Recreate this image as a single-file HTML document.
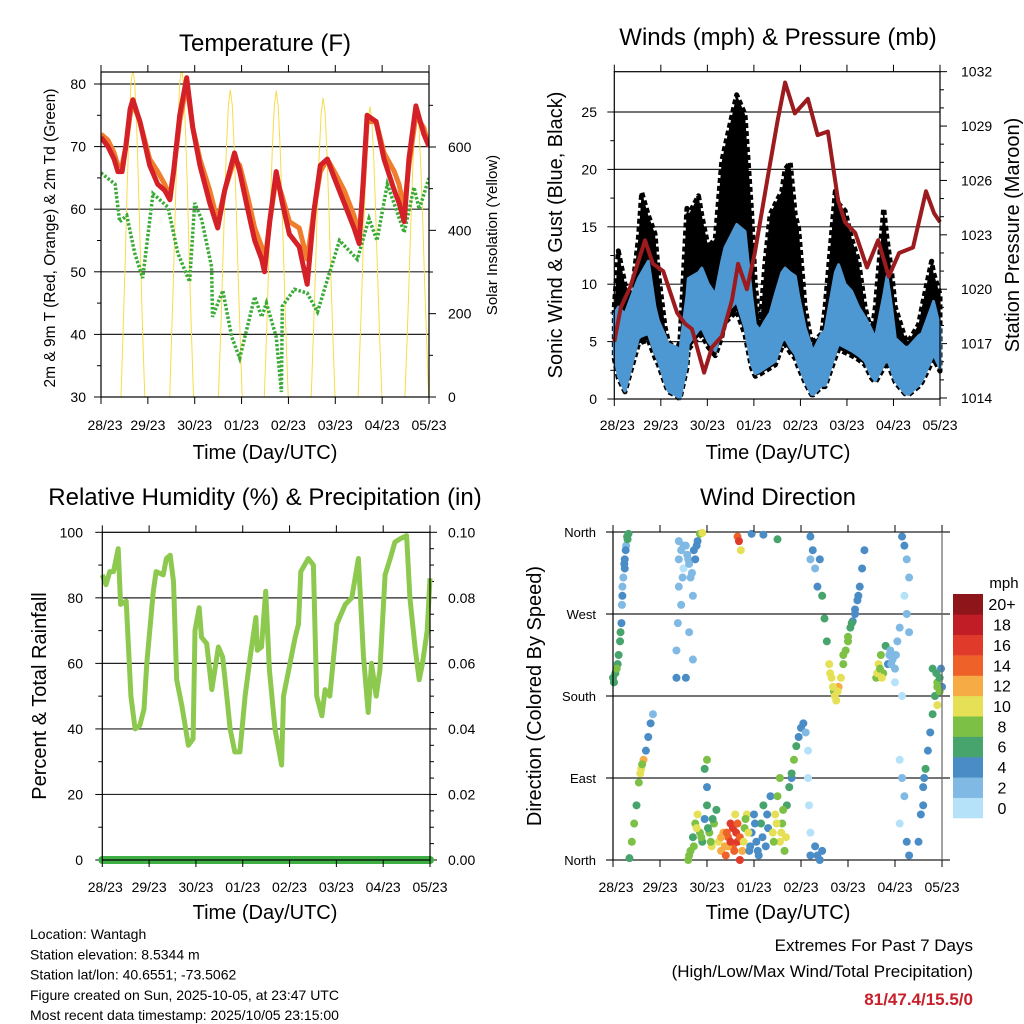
<!DOCTYPE html>
<html><head><meta charset="utf-8"><style>
html,body{margin:0;padding:0;background:#fff;}
svg{display:block;font-family:"Liberation Sans",sans-serif;}
</style></head><body>
<svg id="chart" width="1024" height="1024" viewBox="0 0 1024 1024" xmlns="http://www.w3.org/2000/svg"></svg>
<script>
// ---------- DATA ----------
const dayLabels=["28/23","29/23","30/23","01/23","02/23","03/23","04/23","05/23"];
// Temperature
const tempDays=[0,.15,.28,.36,.45,.53,.62,.68,.83,1.04,1.21,1.36,1.47,1.55,1.68,1.83,1.96,2.11,2.32,2.49,2.64,2.85,2.96,3.13,3.28,3.43,3.49,3.6,3.74,3.87,4.02,4.23,4.4,4.55,4.68,4.83,4.98,5.19,5.4,5.51,5.6,5.68,5.87,6.04,6.26,6.36,6.47,6.57,6.72,6.89,7];
const temp2m=[71.5,70,68,66,66,70,76,77.5,74,67,64,63,61.5,66,75,81,73,67,61,57,63,69,66,60,55,52,50,58,66,61,56,54,48,60,67,68,65,61,57,54.5,65,75,74,68,63,61,58,68,76.5,72,70];
const temp9m=[72,71,69,67,67,70,75,77,74,68,66,64,62,66,74,80,73,68,63,58,63,68,67,62,57,54,51,58,65,62,58,57,52,60,66,68,66,63,59,56,64,74,74,69,66,64,60,67,75,73,70];
const dewDays=[0,.3,.4,.55,.72,.89,1.11,1.43,1.64,1.89,2.0,2.15,2.36,2.38,2.6,2.79,2.96,3.28,3.43,3.53,3.74,3.85,3.87,4.13,4.4,4.62,5.09,5.47,5.72,5.89,6.11,6.47,6.68,6.79,7];
const dewPoint=[65.8,64,58,59,53,49,62.5,60.3,53,48.4,61,58.3,50.8,42.8,47,39.6,36.2,46,42.8,45,39.6,30.8,44.5,47.2,46.6,43.6,55,52,58.5,55,64,56.3,63.5,60,65];
const solarNoon=[0.68,1.72,2.76,3.74,4.74,5.74,6.74];
const solarPeak=[790,790,737,735,718,697,690];
const solarHours=[-6.1,-5,-4,-3,-2,-1,0,1,2,3,4,5,6.1];
const solarFrac=[0,0.2,0.4,0.62,0.81,0.95,1,0.95,0.81,0.62,0.4,0.2,0];
const tempTicks=[30,40,50,60,70,80];
const solarTicks=[0,200,400,600];
// Winds
const gustDays=[0,.087,.23,.373,.517,.588,.73,.875,.947,1.09,1.16,1.34,1.41,1.56,1.59,1.81,1.88,2.02,2.17,2.31,2.38,2.63,2.81,2.95,3.03,3.13,3.24,3.35,3.46,3.6,3.67,3.78,3.89,3.96,4.1,4.24,4.28,4.46,4.53,4.75,4.82,4.96,5.1,5.25,5.39,5.53,5.61,5.79,5.86,5.96,6.04,6.25,6.32,6.54,6.61,6.82,6.86,7];
const gustMax=[8,12.9,10,9,14,18,16,14.4,11,6.3,5,4.2,5,16.6,16,17.7,16,13.2,14,20.7,22,26.5,24.8,16.3,10,6.2,12,16.1,17,18.1,20,20.6,16,14.9,8,4.8,5,5.7,8,18.1,17,16.4,14,12,8,5.7,8,16.6,14,11.1,8,5.3,5,6.5,8,12,11,9.1];
const windHi=[7.4,8,7.4,9,10.5,11,12,8,6.8,5.5,4.8,4.5,4.2,9,10.5,11,11.4,10,9.1,12,13.2,15.2,14.6,9,6.5,6,6.8,7.5,9.1,11,11.4,11,10.7,9,6.2,4.5,4.2,5.7,6,11,11.7,10,9.4,8,7.1,6,5.3,9,10.7,8,5.3,4.5,4.5,5.5,5.7,8,8.5,6.2];
const windLo=[3.9,2,0.7,3,5.3,5.5,5.7,4,3.3,1.5,0.7,0.3,0,3,4.8,6,6.2,5,4.2,6,7.4,8.5,6.2,3,2.2,2.4,2.7,3,3.3,5,5.3,4.5,3.9,3,1.6,0.4,0.4,1.2,1.2,4,4.8,4.5,4.2,3.8,3.3,2,1.6,3,3.6,2.5,1.6,0.5,0.4,1.2,1.6,3.5,3.9,2.7];
const presDays=[0,.14,.34,.66,.83,1.05,1.35,1.52,1.67,1.93,2.1,2.31,2.53,2.66,2.85,3.02,3.3,3.51,3.67,3.88,4.16,4.37,4.59,4.81,4.96,5.18,5.43,5.67,5.9,6.12,6.42,6.7,6.87,7];
const pressure=[1017.1,1019,1020.1,1022.7,1021.4,1021,1018.7,1018.1,1017.8,1015.4,1016.8,1017.4,1019.4,1021.4,1020,1022,1026.2,1029.3,1031.4,1029.7,1030.5,1028.5,1028.7,1024.9,1023.7,1023.1,1021.2,1022.7,1020.7,1022,1022.3,1025.4,1024.2,1023.7];
const windTicks=[0,5,10,15,20,25];
const presTicks=[1014,1017,1020,1023,1026,1029,1032];
// Relative humidity
const rhDays=[0,.08,.16,.24,.34,.39,.51,.61,.7,.8,.89,.95,1.09,1.15,1.3,1.37,1.45,1.52,1.59,1.7,1.84,1.94,1.98,2.07,2.12,2.23,2.34,2.48,2.57,2.66,2.73,2.83,2.94,3.05,3.16,3.28,3.31,3.4,3.49,3.57,3.69,3.83,3.87,4.01,4.12,4.19,4.24,4.4,4.51,4.58,4.69,4.76,4.86,5.01,5.19,5.33,5.47,5.58,5.68,5.75,5.85,5.93,6.04,6.15,6.25,6.36,6.5,6.57,6.68,6.77,6.84,6.94,7];
const rhValues=[87,84,88,88,95,78,79,50,40,41,46,60,82,88,87,92,93,85,55,47,35,37,70,77,68,66,52,65,62,50,40,33,33,50,62,74,64,65,82,58,40,29,50,60,68,72,88,92,90,50,44,52,50,72,78,80,92,62,45,60,50,58,87,92,97,98,99,80,65,55,60,70,86];
const rainDays=[0,7];
const rainTotal=[0,0];
const rhTicks=[0,20,40,60,80,100];
const rainTicks=["0.00","0.02","0.04","0.06","0.08","0.10"];
// Wind direction (day, degrees, mph)
const dirDay=[0,.05,.1,.15,.18,.2,.22,.25,.28,.3,.33,.2,.25,
.35,.4,.45,.5,.55,.6,.65,.7,.75,.8,.85,.62,.58,
1.35,1.35,1.38,1.4,1.4,1.45,1.5,1.55,1.6,1.65,1.7,1.75,1.8,1.85,1.9,1.55,1.62,1.7,1.45,
1.6,1.65,1.7,1.75,1.8,1.85,1.9,1.95,2.0,2.0,2.05,2.1,2.15,2.2,1.95,2.0,2.25,2.3,2.35,2.4,2.45,2.5,2.55,2.6,2.65,2.7,2.75,2.8,2.85,2.45,2.55,2.65,
2.65,2.68,2.72,2.95,3.2,3.5,
2.9,2.95,3.0,3.05,3.1,3.15,3.2,3.25,3.3,3.35,3.4,3.45,3.5,3.55,3.6,3.65,3.7,3.55,3.75,3.8,
3.8,3.85,3.9,3.95,4.0,4.05,4.1,4.15,4.15,4.17,4.2,
4.2,4.3,4.35,4.4,4.45,
4.2,4.25,4.3,4.35,4.4,4.45,4.5,4.55,4.6,4.65,4.7,4.75,4.8,4.85,4.9,4.95,5.0,5.05,5.1,5.15,5.2,5.25,5.3,5.35,4.2,
5.6,5.65,5.7,5.75,5.8,5.85,5.9,5.95,6.0,6.05,6.1,6.0,6.15,
6.15,6.2,6.25,6.3,6.2,6.25,6.3,
6.1,6.15,6.2,6.1,6.25,6.3,
6.5,6.55,6.6,6.65,6.7,6.75,6.8,6.85,6.9,6.95,7.0,6.9,6.8,
0.02,0.08,0.12,0.16,0.24,0.27,0.31,0.19,
1.4,1.5,1.58,1.62,1.68,1.72,1.78,1.48,
1.62,1.72,1.78,1.88,2.02,2.08,2.12,2.3,2.38,2.42,2.5,2.58,2.62,2.7,2.78,2.82,2.88,
2.92,3.02,3.08,3.18,3.28,3.42,3.48,3.58,3.62,3.68,
4.62,4.68,4.72,4.78,4.9,5.0,5.08,5.15,5.22,
5.62,5.68,5.72,5.88,5.92,6.02,
6.9,6.95,6.98,6.88,6.6,6.62];
const dirDeg=[200,205,215,240,260,290,310,330,345,355,358,300,320,
2,20,40,60,85,100,110,120,135,150,160,105,95,
200,230,260,300,330,340,320,345,330,310,290,330,350,358,359,200,250,220,280,
0,10,25,40,50,30,20,45,60,80,30,15,40,55,100,110,20,10,30,5,25,40,15,50,20,0,10,35,50,15,35,40,
355,350,340,358,357,352,
10,30,50,20,5,40,60,15,35,70,30,50,70,20,40,10,60,90,80,90,
95,110,125,135,145,150,140,120,90,60,30,
5,15,5,0,10,
355,340,320,300,330,290,265,240,215,200,185,175,190,200,215,230,245,255,262,270,285,300,320,340,330,
200,215,225,205,235,215,230,220,210,240,255,195,180,
355,345,330,310,290,270,250,
110,90,70,40,20,5,
20,50,80,100,120,140,160,180,195,200,190,170,210,
195,210,225,250,325,340,352,280,
350,345,335,325,315,340,345,310,
5,15,35,25,35,20,45,25,15,30,20,10,30,25,20,45,30,
15,40,10,25,50,20,40,30,55,25,
205,190,180,185,225,240,260,275,290,
205,210,200,225,215,225,
190,185,210,205,60,90];
const dirSpeed=[6,7,6,6,4,4,2,4,2,6,6,2,4,
6,8,8,6,8,10,12,4,4,4,2,8,10,
4,2,2,2,2,2,0,2,2,2,2,4,4,8,10,4,2,2,2,
8,8,6,8,10,8,6,4,6,4,8,10,8,6,6,8,10,12,12,14,14,16,14,10,16,16,12,8,10,12,16,14,
14,16,10,4,4,6,
4,4,4,4,4,6,6,4,4,4,10,10,8,10,8,8,6,8,6,4,
6,8,6,4,4,4,2,0,0,0,0,
4,4,4,4,4,
4,4,2,4,4,6,6,6,10,10,8,10,12,10,8,8,8,6,4,4,4,4,4,4,2,
8,10,8,8,6,4,2,2,2,2,2,0,0,
4,4,2,2,0,2,2,
0,2,2,0,4,4,
4,4,4,6,4,4,6,6,8,6,4,10,6,
6,8,6,6,4,4,6,2,
2,2,2,2,2,4,4,2,
8,8,10,8,6,8,6,12,12,14,16,14,16,14,10,8,10,
4,4,4,4,4,8,10,10,8,10,
10,10,10,10,8,8,6,4,4,
10,8,10,2,2,2,
8,8,4,6,4,4];
const speedLabels=["0","2","4","6","8","10","12","14","16","18","20+"];
const speedColors=["#b5e2f8","#80b9e3","#4a8cc5","#47a46c","#7cc046","#e5e056","#f6ab45","#ee622a","#df3a2a","#c01d26","#8e161b"];
const dirLabels=["North","East","South","West","North"];
const dirTicks=[0,90,180,270,360];

// ---------- HELPERS ----------
const svg=document.getElementById('chart');
const NS='http://www.w3.org/2000/svg';
function mk(tag,attrs,parent){const e=document.createElementNS(NS,tag);for(const k in attrs)e.setAttribute(k,attrs[k]);(parent||svg).appendChild(e);return e;}
function txt(x,y,s,size,anchor,parent,extra){const e=mk('text',Object.assign({x:x,y:y,'font-size':size,'text-anchor':anchor||'middle',fill:'#000'},extra||{}),parent);e.textContent=s;return e;}
function pathD(xs,ys){return xs.map((x,i)=>(i?'L':'M')+x.toFixed(1)+','+ys[i].toFixed(1)).join('');}

// ---------- PANEL 1: TEMPERATURE ----------
(function(){
const L=101,R=429,T=72,B=397;
const X=d=>L+d*(R-L)/7, Y=v=>B-(v-30)*6.26, YS=v=>B-v*0.41667;
const g=mk('g',{});


const t=txt(265,51,'Temperature (F)',24,'middle',g);


mk('clipPath',{id:'tclip'},g).appendChild(document.createElementNS(NS,'rect'));
const cr=g.querySelector('#tclip rect');cr.setAttribute('x',L);cr.setAttribute('y',T);cr.setAttribute('width',R-L);cr.setAttribute('height',B-T);
tempTicks.forEach(v=>{if(v>30){const gl=mk('line',{x1:L,x2:R,y1:Y(v),y2:Y(v),stroke:'#222','stroke-width':1.2},g);

}
mk('line',{x1:L-7,x2:L,y1:Y(v),y2:Y(v),stroke:'#000'},g);
const l=txt(86,Y(v)+5,String(v),14,'end',g);

});
for(let v=35;v<82;v+=10)mk('line',{x1:L-4,x2:L,y1:Y(v),y2:Y(v),stroke:'#000'},g);
solarTicks.forEach(v=>{mk('line',{x1:R,x2:R+7,y1:YS(v),y2:YS(v),stroke:'#000'},g);
const l=txt(448,YS(v)+5,String(v),14,'start',g);

});
for(let v=100;v<780;v+=200)mk('line',{x1:R,x2:R+4,y1:YS(v),y2:YS(v),stroke:'#000'},g);
const inner=mk('g',{'clip-path':'url(#tclip)'},g);
solarNoon.forEach((n,i)=>{const xs=solarHours.map(h=>X(n+h/24)),ys=solarFrac.map(f=>YS(f*solarPeak[i]));
const p=mk('path',{d:pathD(xs,ys),fill:'none',stroke:'#f7dc4a','stroke-width':1},inner);

});
const d=mk('path',{d:pathD(dewDays.map(X),dewPoint.map(Y)),fill:'none',stroke:'#3bab37','stroke-width':3.5,'stroke-dasharray':'2.5 1.8'},inner);


const o=mk('path',{d:pathD(tempDays.map(X),temp9m.map(Y)),fill:'none',stroke:'#f07d2b','stroke-width':5,'stroke-linejoin':'round'},inner);


const r=mk('path',{d:pathD(tempDays.map(X),temp2m.map(Y)),fill:'none',stroke:'#d42027','stroke-width':5,'stroke-linejoin':'round'},inner);


mk('rect',{x:L,y:T,width:R-L,height:B-T,fill:'none',stroke:'#000','stroke-width':1.2},g);
dayLabels.forEach((s,i)=>{mk('line',{x1:X(i),x2:X(i),y1:B,y2:B+7,stroke:'#000'},g);mk('line',{x1:X(i),x2:X(i),y1:T,y2:T-7,stroke:'#000'},g);
const l=txt(X(i)+(i==0?4:0),430,s,14,'middle',g);

});
const xt=txt(265,459,'Time (Day/UTC)',20,'middle',g);


const yt=txt(0,0,'2m & 9m T (Red, Orange) & 2m Td (Green)',15.5,'middle',g,{transform:'translate(55,238) rotate(-90)'});


const y2=txt(0,0,'Solar Insolation (Yellow)',15,'middle',g,{transform:'translate(497,235) rotate(-90)'});


})();

// ---------- PANEL 2: WINDS ----------
(function(){
const L=614.3,R=940,T=71.7,B=399;
const X=d=>L+d*(R-L)/7, Y=v=>B-v*11.48, YP=p=>398-(p-1014)*18.13;
const g=mk('g',{});


const t=txt(778,45,'Winds (mph) & Pressure (mb)',24,'middle',g);


windTicks.forEach(v=>{if(v>0){const gl=mk('line',{x1:L,x2:R,y1:Y(v),y2:Y(v),stroke:'#222','stroke-width':1.2},g);

}
mk('line',{x1:L-7,x2:L,y1:Y(v),y2:Y(v),stroke:'#000'},g);
const l=txt(597,Y(v)+5,String(v),14,'end',g);

});
for(let v=2.5;v<27;v+=5)mk('line',{x1:L-4,x2:L,y1:Y(v),y2:Y(v),stroke:'#000'},g);
presTicks.forEach(p=>{mk('line',{x1:R,x2:R+7,y1:YP(p),y2:YP(p),stroke:'#000'},g);
const l=txt(961,YP(p)+5,String(p),14,'start',g);

});
for(let p=1015;p<1032.5;p+=1){if((p-1014)%3)mk('line',{x1:R,x2:R+4,y1:YP(p),y2:YP(p),stroke:'#000'},g);}
const gx=gustDays.map(X);
const gb=mk('path',{d:pathD(gx,gustMax.map(Y))+pathD(gx.slice().reverse(),windLo.map(v=>Y(v*0.9)).reverse()).replace('M','L')+'Z',fill:'#000',stroke:'#000','stroke-width':5,'stroke-linejoin':'round','stroke-dasharray':'5 3'},g);


const wb=mk('path',{d:pathD(gx,windHi.map(Y))+pathD(gx.slice().reverse(),windLo.map(Y).reverse()).replace('M','L')+'Z',fill:'#4d97d2',stroke:'#4d97d2','stroke-width':3,'stroke-linejoin':'round'},g);


const p=mk('path',{d:pathD(presDays.map(X),pressure.map(YP)),fill:'none',stroke:'#9b1b1e','stroke-width':4,'stroke-linejoin':'round'},g);


mk('rect',{x:L,y:T,width:R-L,height:B-T,fill:'none',stroke:'#000','stroke-width':1.2},g);
dayLabels.forEach((s,i)=>{mk('line',{x1:X(i),x2:X(i),y1:B,y2:B+7,stroke:'#000'},g);mk('line',{x1:X(i),x2:X(i),y1:T,y2:T-7,stroke:'#000'},g);
const l=txt(X(i)+(i==0?3:0),430,s,14,'middle',g);

});
const xt=txt(778,459,'Time (Day/UTC)',20,'middle',g);


const yt=txt(0,0,'Sonic Wind & Gust (Blue, Black)',20,'middle',g,{transform:'translate(562,235) rotate(-90)'});


const y2=txt(0,0,'Station Pressure (Maroon)',20,'middle',g,{transform:'translate(1019,235) rotate(-90)'});


})();

// ---------- PANEL 3: RH ----------
(function(){
const L=102.3,R=430,T=532.3,B=860;
const X=d=>L+d*(R-L)/7, Y=v=>B-v*3.277;
const g=mk('g',{});


const t=txt(265,505,'Relative Humidity (%) & Precipitation (in)',24,'middle',g);


rhTicks.forEach((v,i)=>{if(v>0&&v<100){const gl=mk('line',{x1:L,x2:R,y1:Y(v),y2:Y(v),stroke:'#222','stroke-width':1.2},g);

}
mk('line',{x1:L-7,x2:L,y1:Y(v),y2:Y(v),stroke:'#000'},g);
mk('line',{x1:R,x2:R+7,y1:Y(v),y2:Y(v),stroke:'#000'},g);
const l=txt(83,Y(v)+5,String(v),14,'end',g);


const l2=txt(448,Y(v)+5,rainTicks[i],14,'start',g);

});
for(let v=10;v<100;v+=20)mk('line',{x1:L-4,x2:L,y1:Y(v),y2:Y(v),stroke:'#000'},g);
for(let v=5;v<100;v+=5){if(v%20)mk('line',{x1:R,x2:R+4,y1:Y(v),y2:Y(v),stroke:'#000'},g);}
const rh=mk('path',{d:pathD(rhDays.map(X),rhValues.map(Y)),fill:'none',stroke:'#8dc94f','stroke-width':5,'stroke-linejoin':'round'},g);


const rn=mk('path',{d:pathD(rainDays.map(X),rainTotal.map(v=>Y(v*1000))),fill:'none',stroke:'#3fae44','stroke-width':8,'stroke-linecap':'round'},g);


mk('rect',{x:L,y:T,width:R-L,height:B-T,fill:'none',stroke:'#000','stroke-width':1.2},g);
dayLabels.forEach((s,i)=>{mk('line',{x1:X(i),x2:X(i),y1:B,y2:B+7,stroke:'#000'},g);mk('line',{x1:X(i),x2:X(i),y1:T,y2:T-7,stroke:'#000'},g);
const l=txt(X(i)+(i==0?3:0),892,s,14,'middle',g);

});
const xt=txt(265,919,'Time (Day/UTC)',20,'middle',g);


const yt=txt(0,0,'Percent & Total Rainfall',20,'middle',g,{transform:'translate(46,696) rotate(-90)'});


})();

// ---------- PANEL 4: WIND DIRECTION ----------
(function(){
const L=613,R=942,T=532,B=860;
const X=d=>L+d*(R-L)/7, Y=v=>B-v*(B-T)/360;
const g=mk('g',{});


const t=txt(778,505,'Wind Direction',24,'middle',g);


dirTicks.forEach((v,i)=>{const gl=mk('line',{x1:L-7,x2:R+8,y1:Y(v),y2:Y(v),stroke:'#222','stroke-width':1.2},g);


const l=txt(596,Y(v)+5,dirLabels[i],13,'end',g);

});
dirDay.forEach((d,i)=>{const ci=Math.min(10,Math.floor(dirSpeed[i]/2));
const c=mk('circle',{cx:X(d),cy:Y(dirDeg[i]),r:4,fill:speedColors[ci]},g);

});
mk('line',{x1:L,x2:L,y1:T,y2:B,stroke:'#000','stroke-width':1.2},g);
mk('line',{x1:R,x2:R,y1:T,y2:B,stroke:'#666','stroke-width':1.2},g);
dayLabels.forEach((s,i)=>{mk('line',{x1:X(i),x2:X(i),y1:B,y2:B+7,stroke:'#000'},g);mk('line',{x1:X(i),x2:X(i),y1:T,y2:T-7,stroke:'#000'},g);
const l=txt(X(i)+(i==0?3:0),892,s,14,'middle',g);

});
const xt=txt(778,919,'Time (Day/UTC)',20,'middle',g);


const yt=txt(0,0,'Direction (Colored By Speed)',20,'middle',g,{transform:'translate(541,696) rotate(-90)'});


const cb=mk('g',{},g);


const bh=(818-594)/11;
speedColors.forEach((c,i)=>{const y=818-(i+1)*bh;
const r=mk('rect',{x:953,y:y,width:30,height:bh+0.3,fill:c},cb);


const l=txt(1002,y+bh/2+6,speedLabels[i],16,'middle',cb);

});
const u=txt(1004,588,'mph',15,'middle',cb);


})();

// ---------- FOOTER ----------
const info=["Location: Wantagh","Station elevation: 8.5344 m","Station lat/lon: 40.6551; -73.5062","Figure created on Sun, 2025-10-05, at 23:47 UTC","Most recent data timestamp: 2025/10/05 23:15:00"];
info.forEach((s,i)=>{const l=txt(30,939+i*20.3,s,14,'start');

});
const e1=txt(973,951,'Extremes For Past 7 Days',17,'end');


const e2=txt(973,977,'(High/Low/Max Wind/Total Precipitation)',17,'end');


const e3=txt(973,1005,'81/47.4/15.5/0',17,'end',null,{fill:'#c8202a','font-weight':'bold'});


</script>
</body></html>
